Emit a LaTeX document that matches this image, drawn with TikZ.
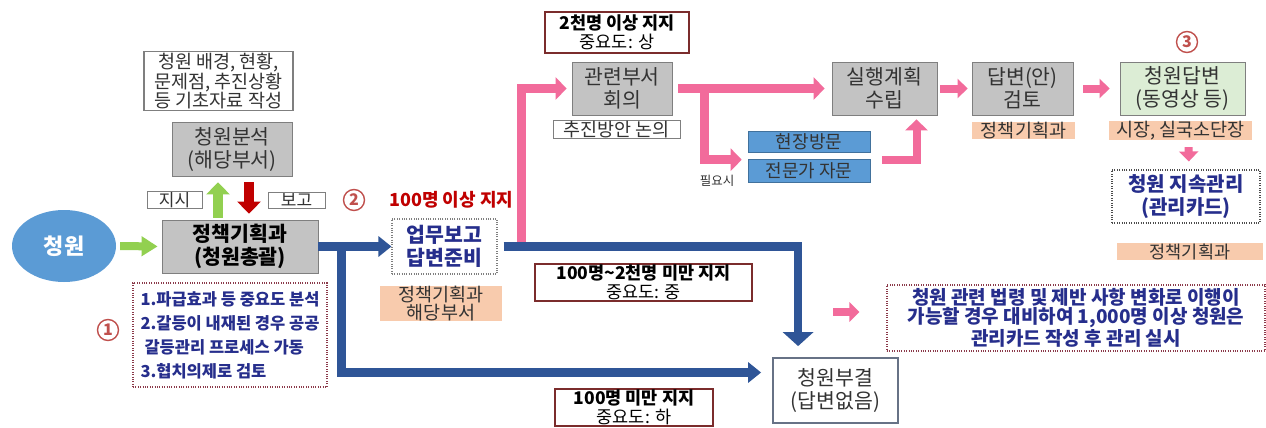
\documentclass[tikz,border=0pt]{standalone}
\usepackage{fontspec}
\setmainfont{Noto Sans CJK KR}
\usetikzlibrary{arrows.meta,shapes.geometric,calc}
\definecolor{pinkc}{HTML}{F26B9B}
\definecolor{bluec}{HTML}{2F5597}
\definecolor{greenc}{HTML}{92D050}
\definecolor{redc}{HTML}{C00000}
\definecolor{circred}{HTML}{C0504D}
\definecolor{grayfill}{HTML}{C3C3C3}
\definecolor{grayline}{HTML}{7F7F7F}
\definecolor{darkred}{HTML}{7B2C2C}
\definecolor{peach}{HTML}{F8CBAD}
\definecolor{lblue}{HTML}{5B9BD5}
\definecolor{lblueline}{HTML}{41719C}
\definecolor{lgreen}{HTML}{DCEDD5}
\definecolor{navy}{HTML}{262E8C}
\definecolor{dotline}{HTML}{8B3A4A}
\definecolor{txt}{HTML}{333333}
\tikzset{
  graybox/.style={draw=grayline, line width=0.8pt, fill=grayfill, align=center, inner sep=1pt, text=txt, font=\fontsize{20.5}{23}\selectfont},
  whitebox/.style={draw=grayline, line width=1.2pt, fill=white, align=center, inner sep=1pt, text=txt},
  redbox/.style={draw=darkred, line width=2.2pt, fill=white, align=center, inner sep=1pt, text=black, font=\fontsize{17.5}{19}\selectfont},
  peachbox/.style={fill=peach, align=center, inner sep=0pt, text=txt},
  bluebox/.style={draw=lblueline, line width=0.6pt, fill=lblue, align=center, inner sep=0pt, text=txt, font=\fontsize{18}{18}\selectfont},
  dotbox/.style={draw=dotline, line width=1.1pt, dash pattern=on 1pt off 1.4pt, fill=white, inner sep=1pt, text=navy},
  circmark/.style={circle, draw=circred, line width=1.4pt, minimum size=21pt, inner sep=0pt, text=circred, font=\fontsize{16}{16}\selectfont\bfseries},
  parrow/.style={draw=pinkc, line width=9pt, line join=miter, -{Triangle[width=22pt,length=11pt]}},
  psmall/.style={draw=pinkc, line width=8pt, -{Triangle[width=19pt,length=10pt]}},
  barrow/.style={draw=bluec, line width=8.5pt, line join=miter, -{Triangle[width=20pt,length=13pt]}},
  fatup/.style={line width=10pt, -{Triangle[width=23pt,length=12pt]}}
}
\begin{document}
\begin{tikzpicture}[x=1pt,y=-1pt]
\useasboundingbox (0,0) rectangle (1266,428);
\fill[white] (0,0) rectangle (1266,428);

% ---------- left part ----------
\node[ellipse, fill=lblue, minimum width=104pt, minimum height=72pt, inner sep=0pt, text=white, font=\fontsize{22}{22}\selectfont\bfseries] (src) at (64,246) {청원};
\node[graybox, minimum width=156pt, minimum height=53pt, font=\fontsize{20.5}{23}\selectfont\bfseries, text=black] (jc) at (240,246.5) {정책기획과\\(청원총괄)};
\node[whitebox, minimum width=149pt, minimum height=54pt, font=\fontsize{18.5}{17.5}\selectfont] (basic) at (218.5,81) {청원 배경, 현황,\\문제점, 추진상황\\등 기초자료 작성};
\node[graybox, minimum width=120pt, minimum height=54pt] (ana) at (232,149) {청원분석\\(해당부서)};
\node[whitebox, line width=1pt, minimum width=55pt, minimum height=16pt, font=\fontsize{17}{17}\selectfont] (jisi) at (174.5,200) {지시};
\node[whitebox, line width=1pt, minimum width=57pt, minimum height=16pt, font=\fontsize{17}{17}\selectfont] (bogo) at (296.5,200) {보고};
\draw[fatup, draw=greenc, fill=greenc] ($(jc.north)+(-22,-2)$) -- ($(ana.south)+(-14,6)$);
\draw[fatup, draw=redc, fill=redc] ($(ana.south)+(17,6)$) -- ($(jc.north)+(9,-6)$);
\draw[draw=greenc, line width=8pt, -{Triangle[width=19pt,length=16pt]}, shorten <=4pt, shorten >=4pt] (src.east) -- (jc.west);

\node[dotbox, minimum width=194pt, minimum height=104pt, align=left, font=\fontsize{16.5}{24}\selectfont\bfseries] (notes) at (230,335) {1.파급효과 등 중요도 분석\\2.갈등이 내재된 경우 공공\\\hspace{4pt}갈등관리 프로세스 가동\\3.협치의제로 검토};
\node[circmark] (c1) at (108,330) {1};

% ---------- middle ----------
\node[dotbox, draw=grayline, minimum width=105pt, minimum height=55pt, align=center, font=\fontsize{20.5}{23}\selectfont\bfseries] (work) at (444.5,246.5) {업무보고\\답변준비};
\node[circmark] (c2) at (354,200) {2};
\node[anchor=west, text=redc, font=\fontsize{18}{18}\selectfont\bfseries, inner sep=0pt] (t100) at (389,200) {100명 이상 지지};
\node[peachbox, minimum width=122pt, minimum height=31pt, font=\fontsize{18.5}{15.5}\selectfont] (pk1) at (441,303.5) {정책기획과\\해당부서};

\node[graybox, minimum width=100pt, minimum height=53pt] (rel) at (622,88.5) {관련부서\\회의};
\node[whitebox, line width=1pt, minimum width=127pt, minimum height=15pt, font=\fontsize{18.5}{18}\selectfont] (disc) at (616.5,129.5) {추진방안 논의};
\node[redbox, minimum width=144pt, minimum height=41pt] (top2k) at (617,32.5) {\textbf{2천명 이상 지지}\\중요도: 상};
\node[redbox, minimum width=217pt, minimum height=37pt] (mid) at (643.5,282.5) {\textbf{100명\textasciitilde 2천명 미만 지지}\\중요도: 중};
\node[redbox, minimum width=158pt, minimum height=37pt] (low) at (634,407.5) {\textbf{100명 미만 지지}\\중요도: 하};

\node[graybox, minimum width=105pt, minimum height=53pt] (plan) at (884.5,88.5) {실행계획\\수립};
\node[bluebox, minimum width=122pt, minimum height=21pt] (visit) at (809,141.5) {현장방문};
\node[bluebox, minimum width=122pt, minimum height=23pt] (expert) at (809,170.5) {전문가 자문};
\node[text=txt, font=\fontsize{12.5}{12.5}\selectfont, inner sep=0pt] (need) at (717,181) {필요시};

\node[whitebox, draw=grayline!70!bluec, line width=1.8pt, minimum width=125pt, minimum height=65pt, font=\fontsize{20.5}{23}\selectfont] (reject) at (835.5,390.5) {청원부결\\(답변없음)};

% ---------- right ----------
\node[graybox, minimum width=101pt, minimum height=53pt] (draft) at (1022.5,88.5) {답변(안)\\검토};
\node[peachbox, minimum width=103pt, minimum height=15pt, font=\fontsize{18.5}{18}\selectfont] (pk2) at (1023.5,130.5) {정책기획과};
\node[graybox, fill=lgreen, minimum width=125pt, minimum height=53pt] (answer) at (1182.5,88.5) {청원답변\\(동영상 등)};
\node[circmark] (c3) at (1187,42) {3};
\node[peachbox, minimum width=143pt, minimum height=15pt, font=\fontsize{18.5}{18}\selectfont] (pk3) at (1180.5,130.5) {시장, 실국소단장};
\node[dotbox, draw=grayline!60!black, minimum width=148pt, minimum height=53pt, align=center, font=\fontsize{20}{23}\selectfont\bfseries] (keep) at (1186,196.5) {청원 지속관리\\(관리카드)};
\node[peachbox, minimum width=146pt, minimum height=17pt, font=\fontsize{17.5}{17}\selectfont] (pk4) at (1190,251.5) {정책기획과};
\node[dotbox, minimum width=378pt, minimum height=66pt, align=center, font=\fontsize{19}{17.5}\selectfont\bfseries] (note2) at (1076,318) {청원 관련 법령 및 제반 사항 변화로 이행이\\가능할 경우 대비하여 1,000명 이상 청원은\\관리카드 작성 후 관리 실시};

% ---------- connectors ----------
\coordinate (ps) at (521,244);
\draw[parrow, shorten >=5pt] (ps) |- (rel.west);
\draw[parrow, shorten <=6pt, shorten >=7pt] (rel.east) -- (plan.west);
\coordinate (br) at (704,88.5);
\coordinate (brend) at ($(expert.north west)+(-6,1)$);
\draw[parrow] (br) |- (brend);
\coordinate (e1) at ($(expert.east)+(12,-10.5)$);
\coordinate (e2) at ($(plan.south)+(32,4)$);
\draw[parrow, line width=8pt] (e1) -| (e2);
\draw[psmall, shorten <=3pt, shorten >=4pt] (plan.east) -- (draft.west);
\draw[psmall, shorten <=10pt, shorten >=10pt] (draft.east) -- (answer.west);
\draw[psmall, shorten <=7pt, shorten >=8pt] ($(pk3.south)+(8,0)$) -- ($(keep.north)+(3,0)$);
\coordinate (ns) at (833,312);
\draw[psmall] (ns) -- ($(note2.west)+(-27,-6)$);

\coordinate (J) at ($(jc.east)+(23,-4.25)$);
\draw[barrow] (J) |- ($(reject.west)+(-11,-18)$);
\draw[barrow] (jc.east) -- (work.west);
\draw[barrow, -{Triangle[width=30pt,length=14pt]}, shorten <=6pt] (work.east) -| ($(reject.north west)+(26,-11)$);
\end{tikzpicture}
\end{document}
